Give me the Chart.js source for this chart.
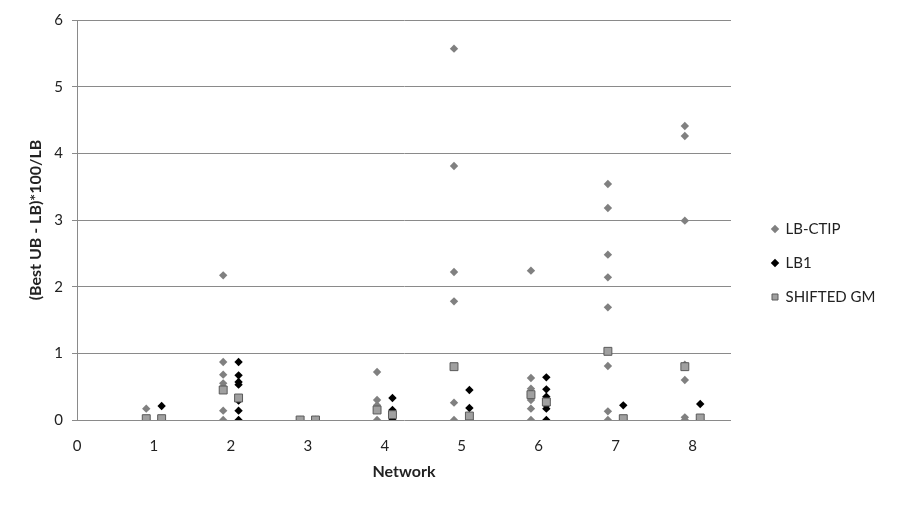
<!DOCTYPE html>
<html>
<head>
<meta charset="utf-8">
<script src="https://cdn.jsdelivr.net/npm/chart.js@4"></script>
<style>
  html, body { margin: 0; padding: 0; background: #fff; }
  #wrap { width: 900px; height: 506px; }
</style>
</head>
<body>
<div id="wrap"><canvas id="gapChart" width="900" height="506"></canvas></div>
<script>
// DATA
const networks = [1, 2, 3, 4, 5, 6, 7, 8];
// LB-CTIP gaps per network
const lbCtip = [
  [0.17, 0],
  [2.17, 0.87, 0.68, 0.55, 0.5, 0.14, 0],
  [0],
  [0.72, 0.3, 0.22, 0.15, 0],
  [5.57, 3.81, 2.22, 1.78, 0.26, 0],
  [2.24, 0.63, 0.47, 0.38, 0.3, 0.17, 0],
  [3.54, 3.18, 2.48, 2.14, 1.69, 0.81, 0.13, 0],
  [4.41, 4.26, 2.99, 0.83, 0.6, 0.04, 0]
];
// LB1 gaps per network
const lb1 = [
  [0.21, 0],
  [0.87, 0.67, 0.57, 0.53, 0.29, 0.14, 0],
  [0],
  [0.33, 0.15, 0.1, 0],
  [0.45, 0.18, 0],
  [0.64, 0.46, 0.35, 0.3, 0.22, 0.17, 0],
  [0.22, 0],
  [0.24, 0]
];
// SHIFTED GM, next to LB-CTIP and next to LB1
const shiftedGmCtip = [0.02, 0.45, 0, 0.15, 0.8, 0.38, 1.03, 0.8];
const shiftedGmLb1 = [0.02, 0.33, 0, 0.08, 0.06, 0.27, 0.02, 0.03];

const xTicks = [0, 1, 2, 3, 4, 5, 6, 7, 8];
const yTicks = [0, 1, 2, 3, 4, 5, 6];

// build points
const leftShift = -0.1;
const rightShift = 0.1;
const toPoints = (groups, shift) => {
  const pts = [];
  groups.forEach((vals, i) => {
    vals.forEach(v => pts.push({ x: networks[i] + shift, y: v }));
  });
  return pts;
};
const gmPoints = shiftedGmCtip.map((v, i) => ({ x: networks[i] + leftShift, y: v }))
  .concat(shiftedGmLb1.map((v, i) => ({ x: networks[i] + rightShift, y: v })));

const gridGrey = "#8a8a8a";
const fontFamily = "Lato, 'Open Sans', sans-serif";

// fixed layout boxes
const fixLayout = {
  id: "fixLayout",
  afterInit(chart) {
    const legend = chart.legend;
    const origFit = legend.fit;
    legend.fit = function () {
      origFit.call(this);
      this.width = 169;
    };
  },
  afterLayout(chart) {
    const legend = chart.legend;
    legend.left += 22;
    legend.right += 22;
  }
};

const ctx = document.getElementById("gapChart").getContext("2d");
const chart = new Chart(ctx, {
  type: "scatter",
  data: {
    datasets: [
      {
        label: "LB-CTIP",
        data: toPoints(lbCtip, leftShift),
        pointStyle: "rectRot",
        pointRadius: 4.2,
        backgroundColor: "#808080",
        borderColor: "#808080",
        borderWidth: 0,
        order: 3
      },
      {
        label: "LB1",
        data: toPoints(lb1, rightShift),
        pointStyle: "rectRot",
        pointRadius: 4.2,
        backgroundColor: "#000000",
        borderColor: "#000000",
        borderWidth: 0,
        order: 2
      },
      {
        label: "SHIFTED GM",
        data: gmPoints,
        pointStyle: "rect",
        pointRadius: 5.6,
        backgroundColor: "#a0a0a0",
        borderColor: "#5a5a5a",
        borderWidth: 1,
        order: 1
      }
    ]
  },
  options: {
    responsive: false,
    animation: false,
    events: [],
    layout: { padding: { top: 20, left: 0, right: 0, bottom: 0 } },
    scales: {
      x: {
        type: "linear",
        min: 0,
        max: 8.5,
        afterBuildTicks: (scale) => { scale.ticks = xTicks.map(v => ({ value: v })); },
        afterFit: (scale) => { scale.height = 86; },
        grid: { display: false },
        border: { display: false },
        ticks: { color: "#222", font: { family: fontFamily, size: 15 }, padding: 9 },
        title: {
          display: true,
          text: "Network",
          color: "#222",
          font: { family: fontFamily, size: 16, weight: "bold" },
          padding: { top: 6, bottom: 25 }
        }
      },
      y: {
        min: 0,
        max: 6,
        afterBuildTicks: (scale) => { scale.ticks = yTicks.map(v => ({ value: v })); },
        afterFit: (scale) => { scale.width = 77; },
        grid: { color: gridGrey, lineWidth: 1, tickLength: 5 },
        border: { color: gridGrey, width: 1 },
        ticks: { color: "#222", font: { family: fontFamily, size: 15 }, padding: 9 },
        title: {
          display: true,
          text: "(Best UB - LB)*100/LB",
          color: "#222",
          font: { family: fontFamily, size: 16, weight: "bold" },
          padding: { top: 26, bottom: 0 }
        }
      }
    },
    plugins: {
      tooltip: { enabled: false },
      legend: {
        position: "right",
        labels: {
          usePointStyle: true,
          boxWidth: 6,
          boxHeight: 6,
          padding: 19,
          color: "#222",
          font: { family: fontFamily, size: 15 },
          sort: (a, b) => a.datasetIndex - b.datasetIndex
        }
      }
    }
  },
  plugins: [fixLayout]
});
</script>
</body>
</html>
